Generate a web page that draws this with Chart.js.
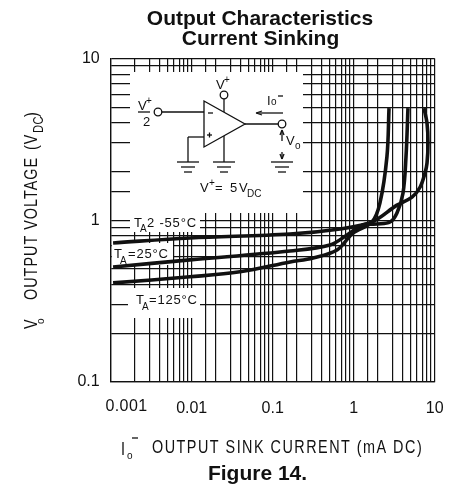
<!DOCTYPE html>
<html>
<head>
<meta charset="utf-8">
<style>
  html, body { margin: 0; padding: 0; background: #fff; }
  #wrap { width: 455px; height: 486px; }
</style>
</head>
<body>
<div id="wrap"><canvas id="chart" width="455" height="486"></canvas></div>
<script src="https://cdn.jsdelivr.net/npm/chart.js@4/dist/chart.umd.min.js"></script>
<script>
const xTickLabels = [0.001, 0.01, 0.1, 1, 10];
const yTickLabels = [0.1, 1, 10];

// [mA, V]
const currentM55 = [0.00107, 0.00953, 0.164, 0.677, 1.68, 3.42, 5.25, 6.59, 7.59, 8.04, 8.27, 8.04, 7.38];
const voltageM55 = [0.724, 0.777, 0.822, 0.883, 0.975, 1.24, 1.39, 1.60, 1.96, 2.26, 3.0, 3.98, 4.93];

const current25 = [0.00107, 0.00953, 0.164, 0.509, 0.827, 1.30, 1.94, 2.81, 3.42, 4.06, 4.42, 4.68];
const voltage25 = [0.514, 0.569, 0.646, 0.703, 0.811, 0.935, 0.948, 0.975, 1.11, 1.47, 2.46, 4.93];

const current125 = [0.00107, 0.00953, 0.0394, 0.164, 0.315, 0.622, 0.98, 1.68, 2.11, 2.57, 2.73];
const voltage125 = [0.41, 0.447, 0.48, 0.552, 0.585, 0.655, 0.834, 0.975, 1.28, 2.46, 4.93];

const ink = "#111";
const plain = "'Liberation Sans', Arial, sans-serif";

function toPoints(xs, ys) {
  return xs.map((x, i) => ({ x: x, y: ys[i] }));
}

function curve(xs, ys) {
  return {
    data: toPoints(xs, ys),
    borderColor: ink,
    borderWidth: 3.6,
    pointRadius: 0,
    showLine: true,
    fill: false,
    tension: 0.35,
    clip: false
  };
}

function text(ctx, str, x, y, font, spacing, align) {
  ctx.font = font;
  ctx.letterSpacing = (spacing || 0) + "px";
  ctx.textAlign = align || "left";
  ctx.textBaseline = "alphabetic";
  ctx.fillText(str, x, y);
}

// the axis lettering is tall and narrow
function narrowText(ctx, str, x, y, font, spacing) {
  ctx.save();
  ctx.translate(x, y);
  ctx.scale(0.8, 1);
  text(ctx, str, 0, 0, font, spacing);
  ctx.restore();
}

function seg(ctx, x1, y1, x2, y2) {
  ctx.beginPath();
  ctx.moveTo(x1, y1);
  ctx.lineTo(x2, y2);
  ctx.stroke();
}

function ground(ctx, x, y) {
  seg(ctx, x - 11, y, x + 11, y);
  seg(ctx, x - 7, y + 5, x + 7, y + 5);
  seg(ctx, x - 4, y + 10, x + 4, y + 10);
}

function ring(ctx, x, y) {
  ctx.beginPath();
  ctx.arc(x, y, 3.8, 0, Math.PI * 2);
  ctx.fillStyle = "#fff";
  ctx.fill();
  ctx.stroke();
  ctx.fillStyle = ink;
}

// white patches that open up the grid for the inset and the curve labels
const gridMask = {
  id: "gridMask",
  beforeDatasetsDraw(chart) {
    const ctx = chart.ctx;
    ctx.save();
    ctx.fillStyle = "#fff";
    ctx.fillRect(130, 72, 173, 141);
    ctx.fillRect(130, 213, 70, 19);
    ctx.fillRect(112, 243, 61, 22);
    ctx.fillRect(128, 288, 72, 30);
    ctx.restore();
  }
};

const notes = {
  id: "notes",
  afterDraw(chart) {
    const ctx = chart.ctx;
    ctx.save();
    ctx.fillStyle = ink;
    ctx.strokeStyle = ink;
    ctx.lineWidth = 1.3;

    // titles
    const tf = "bold 21px " + plain;
    text(ctx, "Output Characteristics", 260, 25, tf, 0, "center");
    text(ctx, "Current Sinking", 260.5, 45, tf, 0, "center");
    text(ctx, "Figure 14.", 257.5, 480, tf, 0, "center");

    const big = "18px " + plain;
    const f = "13px " + plain;
    const s = "10px " + plain;

    // lone shifted tick label
    text(ctx, String(xTickLabels[0]), 126.5, 411, "16px " + plain, 0.4, "center");

    // x axis title
    narrowText(ctx, "I", 121, 455, big, 0);
    text(ctx, "o", 127, 459, s, 0);
    seg(ctx, 132, 438, 138, 438);
    narrowText(ctx, "OUTPUT SINK CURRENT (mA DC)", 152, 453, big, 1.85);

    // y axis title
    ctx.save();
    ctx.translate(37, 0);
    ctx.rotate(-Math.PI / 2);
    narrowText(ctx, "V", -329, 0, big, 0);
    text(ctx, "o", -324, 7, s, 0);
    narrowText(ctx, "OUTPUT VOLTAGE", -300, 0, big, 1.25);
    narrowText(ctx, "(V", -150, 0, big, 1.25);
    narrowText(ctx, "DC", -133, 6, "14px " + plain, 0.5);
    narrowText(ctx, ")", -117, 0, big, 0);
    ctx.restore();

    // curve labels
    text(ctx, "T", 134, 227, f, 0);
    text(ctx, "A", 140, 232, s, 0);
    text(ctx, "2 -55\u00b0C", 147, 227, f, 0.8);
    text(ctx, "T", 114, 258, f, 0);
    text(ctx, "A", 120, 264, s, 0);
    text(ctx, "=25\u00b0C", 128, 258, f, 0.8);
    text(ctx, "T", 136, 304, f, 0);
    text(ctx, "A", 142, 310, s, 0);
    text(ctx, "=125\u00b0C", 149, 304, f, 0.8);

    // op amp inset
    ctx.beginPath();
    ctx.moveTo(204, 101);
    ctx.lineTo(245, 124);
    ctx.lineTo(204, 147);
    ctx.closePath();
    ctx.stroke();
    seg(ctx, 162, 112, 204, 112);
    seg(ctx, 245, 124, 282, 124);
    seg(ctx, 224, 95, 224, 112);
    seg(ctx, 224, 136, 224, 162);
    seg(ctx, 204, 137, 188, 137);
    seg(ctx, 188, 137, 188, 162);
    ground(ctx, 188, 162);
    ground(ctx, 224, 162);
    ground(ctx, 282, 162);
    ring(ctx, 158, 112);
    ring(ctx, 224, 95);
    ring(ctx, 282, 124);
    seg(ctx, 208, 113, 213, 113);
    seg(ctx, 207, 135, 212, 135);
    seg(ctx, 209.5, 132.5, 209.5, 137.5);
    // current arrow
    seg(ctx, 257, 113, 283, 113);
    seg(ctx, 256, 113, 262, 111);
    seg(ctx, 256, 113, 262, 115);
    // output voltage arrows
    seg(ctx, 282, 131, 282, 141);
    seg(ctx, 282, 130, 280, 135);
    seg(ctx, 282, 130, 284, 135);
    seg(ctx, 282, 152, 282, 159);
    seg(ctx, 282, 159, 280, 154);
    seg(ctx, 282, 159, 284, 154);
    // fraction
    seg(ctx, 138, 112, 150, 112);
    text(ctx, "V", 138, 110, f, 0);
    text(ctx, "+", 146, 104, s, 0);
    text(ctx, "2", 143, 126, f, 0);
    text(ctx, "V", 216, 89, f, 0);
    text(ctx, "+", 224, 83, s, 0);
    text(ctx, "I", 267, 105, f, 0);
    text(ctx, "o", 271, 105, s, 0);
    seg(ctx, 278, 96, 283, 96);
    text(ctx, "V", 286, 145, f, 0);
    text(ctx, "o", 295, 149, s, 0);
    text(ctx, "V", 200, 192, f, 0);
    text(ctx, "+", 209, 186, s, 0);
    text(ctx, "=", 215, 192, f, 0);
    text(ctx, "5", 230, 192, f, 0);
    text(ctx, "V", 239, 192, f, 0);
    text(ctx, "DC", 247, 197, s, 0);

    ctx.restore();
  }
};

new Chart(document.getElementById("chart"), {
  type: "scatter",
  data: {
    datasets: [
      curve(currentM55, voltageM55),
      curve(current25, voltage25),
      curve(current125, voltage125)
    ]
  },
  options: {
    responsive: false,
    animation: false,
    layout: { autoPadding: false, padding: { top: 58.5, right: 20.3, bottom: 0, left: 0 } },
    plugins: { legend: { display: false }, tooltip: { enabled: false } },
    scales: {
      x: {
        type: "logarithmic",
        min: 0.001,
        max: 10,
        afterFit(scale) {
          scale.height = 104;
          scale.paddingLeft = 0;
          scale.paddingRight = 0;
        },
        border: { color: ink, width: 1.3 },
        grid: { color: ink, lineWidth: 1.2, drawTicks: false },
        ticks: {
          autoSkip: false,
          maxRotation: 0,
          padding: 17,
          color: ink,
          font: { family: plain, size: 16 },
          callback(v) {
            return xTickLabels.indexOf(v) > 0 ? String(v) : "";
          }
        }
      },
      y: {
        type: "logarithmic",
        min: 0.1,
        max: 10,
        afterFit(scale) { scale.width = 110.7; },
        border: { color: ink, width: 1.3 },
        grid: { color: ink, lineWidth: 1.2, drawTicks: false },
        ticks: {
          autoSkip: false,
          padding: 11,
          color: ink,
          font: { family: plain, size: 16 },
          callback(v) {
            return yTickLabels.indexOf(v) >= 0 ? String(v) : "";
          }
        }
      }
    }
  },
  plugins: [gridMask, notes]
});
</script>
</body>
</html>
